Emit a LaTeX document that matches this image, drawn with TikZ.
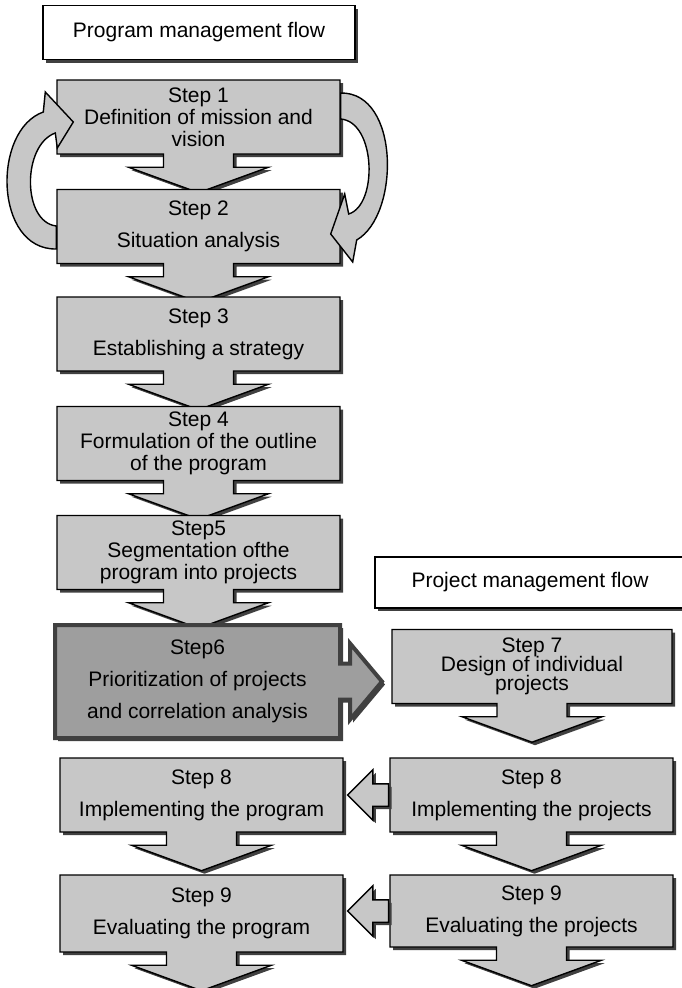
\documentclass[tikz,border=0pt]{standalone}
\usepackage{fontspec}
\setmainfont{Liberation Sans}
\usetikzlibrary{shapes.arrows, shadows, calc}
\colorlet{boxgray}{black!22}
\colorlet{keygray}{black!38}
\newcommand{\stepfont}{\fontsize{21}{22}\selectfont}
\tikzset{
  boxbase/.style={draw=black, line width=1.4pt, fill=boxgray, font=\stepfont, align=center, inner sep=0pt,
    drop shadow={shadow xshift=3pt, shadow yshift=-3pt, fill=black!75, opacity=1}},
  titlebox/.style={boxbase, fill=white, minimum width=312pt, minimum height=54pt},
  stepbox/.style={boxbase, shape=arrow box, minimum width=283pt, minimum height=74pt,
    arrow box arrows={south:38pt}, arrow box shaft width=70pt, arrow box head extend=35pt, arrow box tip angle=140},
  keybox/.style={boxbase, shape=arrow box, fill=keygray, draw=black!75, line width=4pt,
    minimum width=285pt, minimum height=113pt,
    arrow box arrows={east:40pt}, arrow box shaft width=36pt, arrow box head extend=20pt, arrow box tip angle=100},
  backarrow/.style={boxbase, single arrow, shape border rotate=180, anchor=tail,
    inner xsep=0pt, inner ysep=10.5pt, minimum height=41pt, single arrow head extend=14pt},
  loopband/.style={draw=black, line width=1.4pt, fill=boxgray}
}
\begin{document}
\begin{tikzpicture}[x=1pt, y=-1pt]
  \useasboundingbox (0,0) rectangle (682,988);
  % program flow
  \node[titlebox] (ptitle) at (199,32.5) {Program management flow};
  \node[stepbox] (s1) at (198.5,117) {Step 1\\Definition of mission and\\vision};
  \node[stepbox] (s2) at (198.5,226.5) {Step 2\\[10pt]Situation analysis};
  \node[stepbox] (s3) at (198.5,334) {Step 3\\[10pt]Establishing a strategy};
  \node[stepbox] (s4) at (198.5,443.5) {Step 4\\Formulation of the outline\\of the program};
  \node[stepbox] (s5) at (198.5,552.5) {Step5\\Segmentation ofthe\\program into projects};
  \node[keybox] (s6) at (197.5,681.5) {Step6\\[10pt]Prioritization of projects\\[10pt]and correlation analysis};
  \node[stepbox] (s8l) at (201.5,795) {Step 8\\[10pt]Implementing the program};
  \node[stepbox, minimum height=77pt] (s9l) at (201.5,913.5) {Step 9\\[10pt]Evaluating the program};
  % project flow
  \node[titlebox, minimum width=310pt, minimum height=51pt] (jtitle) at (530,582.5) {Project management flow};
  \node[stepbox, minimum width=280pt] (s7) at (532,666.5) {Step 7\\[-3pt]Design of individual\\[-3pt]projects};
  \node[stepbox] (s8r) at (531.5,795) {Step 8\\[10pt]Implementing the projects};
  \node[stepbox, minimum height=72pt] (s9r) at (531.5,911) {Step 9\\[10pt]Evaluating the projects};
  \node[backarrow] (a8) at (s8r.west) {};
  \node[backarrow] (a9) at (s9r.west) {};
  % loop between step 1 and step 2
  \filldraw[loopband] ($(s1.east)+(0,-24)$) .. controls (400,92) and (400,215) .. ($(s2.east)+(16,13.5)$)
    -- ($(s2.east)+(12,35.5)$) -- ($(s2.east)+(-10,7.5)$) -- ($(s2.east)+(4,-32.5)$) -- ($(s2.east)+(8,-12.5)$)
    .. controls (378,205) and (376,122) .. ($(s1.east)+(0,2)$) -- cycle;
  \filldraw[loopband] ($(s2.west)+(0,22.5)$) .. controls (-6,250) and (-8,130) .. ($(s1.west)+(-13,-5)$)
    -- ($(s1.west)+(-11,-25)$) -- ($(s1.west)+(17,5)$) -- ($(s1.west)+(1,31)$) -- ($(s1.west)+(-1,16)$)
    .. controls (22,145) and (22,222) .. ($(s2.west)+(0,-0.5)$) -- cycle;
\end{tikzpicture}
\end{document}
